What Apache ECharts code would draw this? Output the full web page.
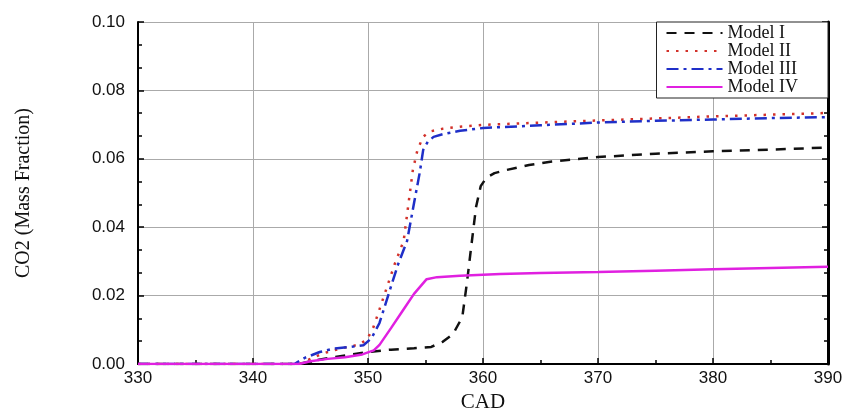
<!DOCTYPE html>
<html>
<head>
<meta charset="utf-8">
<script src="https://cdn.jsdelivr.net/npm/echarts@6/dist/echarts.min.js"></script>
<style>
  html, body { margin: 0; padding: 0; background: #fff; }
  #chart { width: 850px; height: 408px; }
</style>
</head>
<body>
<div id="chart"></div>
<script>
// CAD values (deg) and CO2 mass fraction
var cadI = [330, 344, 345, 347, 349, 350, 352, 354, 355.5, 356.5, 357.4, 358.2, 358.6, 359, 359.4, 359.8, 360.3, 361, 362, 364, 366, 370, 375, 380, 385, 390];
var co2I = [0, 0, 0.0008, 0.002, 0.003, 0.0035, 0.0042, 0.0046, 0.005, 0.0065, 0.0088, 0.0137, 0.0237, 0.035, 0.046, 0.052, 0.0545, 0.0558, 0.0567, 0.0582, 0.0592, 0.0605, 0.0615, 0.0622, 0.0627, 0.0633];

var cadII = [330, 344, 345, 346, 347, 348, 349, 349.9, 350.5, 351, 351.6, 352.3, 353.1, 353.9, 354.3, 354.8, 355.4, 356.5, 358, 360, 365, 370, 375, 380, 385, 390];
var co2II = [0, 0, 0.0015, 0.003, 0.004, 0.0048, 0.0055, 0.007, 0.011, 0.016, 0.022, 0.029, 0.036, 0.0567, 0.0626, 0.0665, 0.068, 0.0688, 0.0694, 0.0699, 0.0706, 0.0712, 0.0718, 0.0724, 0.0729, 0.0734];

var cadIII = [330, 343.6, 344.5, 345.8, 347, 348.5, 349.6, 350.3, 351, 351.9, 352.6, 353.4, 354, 354.5, 354.8, 355.2, 355.7, 356.5, 358, 360, 365, 370, 375, 380, 385, 390];
var co2III = [0, 0, 0.0018, 0.0035, 0.0045, 0.005, 0.0055, 0.0075, 0.012, 0.0216, 0.029, 0.036, 0.047, 0.056, 0.0626, 0.065, 0.0664, 0.0672, 0.0682, 0.069, 0.0698, 0.0706, 0.0711, 0.0715, 0.0719, 0.0722];

var cadIV = [330, 344, 345, 346.5, 348, 349.5, 350.5, 351, 352, 353, 354, 355.1, 356, 358, 361.5, 365, 370, 375, 380, 385, 390];
var co2IV = [0, 0, 0.0008, 0.0015, 0.002, 0.0028, 0.004, 0.0056, 0.0105, 0.0155, 0.0205, 0.0248, 0.0254, 0.0258, 0.0263, 0.0266, 0.0269, 0.0273, 0.0277, 0.0281, 0.0284];

var seriesNames = ['Model I', 'Model II', 'Model III', 'Model IV'];
var xTicks = [330, 340, 350, 360, 370, 380, 390];
var yTicks = [0.00, 0.02, 0.04, 0.06, 0.08, 0.10];

function pairs(xs, ys) {
  return xs.map(function (x, i) { return [x, ys[i]]; });
}

var chart = echarts.init(document.getElementById('chart'));

var tickFont = { fontFamily: 'Liberation Sans', fontSize: 17, color: '#111' };
var serif = 'Liberation Serif';

function lineSeries(name, data, color, type) {
  return {
    name: name,
    type: 'line',
    data: data,
    showSymbol: false,
    symbol: 'none',
    lineStyle: { color: color, width: 2.5, type: type },
    itemStyle: { color: color },
    z: 3
  };
}

chart.setOption({
  animation: false,
  backgroundColor: '#fff',
  grid: { left: 138, right: 22, top: 22, bottom: 44, containLabel: false, outerBoundsMode: 'none' },
  legend: {
    right: 22,
    top: 22,
    orient: 'vertical',
    backgroundColor: '#fff',
    borderColor: '#222',
    borderWidth: 1,
    padding: [2, 30, 2, 9],
    itemGap: 0,
    itemWidth: 56,
    itemHeight: 12,
    data: seriesNames,
    itemStyle: { opacity: 0 },
    textStyle: { fontFamily: serif, fontSize: 18, lineHeight: 16, height: 16, color: '#111' }
  },
  xAxis: [{
    type: 'value',
    min: xTicks[0],
    max: xTicks[xTicks.length - 1],
    interval: 10,
    name: 'CAD',
    nameLocation: 'middle',
    nameGap: 25,
    nameTextStyle: { fontFamily: serif, fontSize: 21, color: '#111' },
    axisLine: { show: true, lineStyle: { color: '#000', width: 2 } },
    axisTick: { show: true, inside: true, length: 6, lineStyle: { color: '#000', width: 1.5 } },
    minorTick: { show: true, splitNumber: 2, length: 4, lineStyle: { color: '#000', width: 1.5 } },
    axisLabel: Object.assign({ margin: 6 }, tickFont),
    splitLine: { show: true, lineStyle: { color: '#aaa', width: 1 } }
  }, {
    type: 'value',
    position: 'top',
    min: xTicks[0],
    max: xTicks[xTicks.length - 1],
    interval: 10,
    axisLine: { show: true, lineStyle: { color: '#000', width: 1.5 } },
    axisTick: { show: false },
    axisLabel: { show: false },
    splitLine: { show: false }
  }],
  yAxis: [{
    type: 'value',
    min: yTicks[0],
    max: yTicks[yTicks.length - 1],
    interval: 0.02,
    name: 'CO2 (Mass Fraction)',
    nameLocation: 'middle',
    nameGap: 104,
    nameTextStyle: { fontFamily: serif, fontSize: 20, color: '#111' },
    axisLine: { show: true, lineStyle: { color: '#000', width: 2 } },
    axisTick: { show: true, inside: true, length: 6, lineStyle: { color: '#000', width: 1.5 } },
    minorTick: { show: true, splitNumber: 3, length: 4, lineStyle: { color: '#000', width: 1.5 } },
    axisLabel: Object.assign({ margin: 13, formatter: function (v) { return v.toFixed(2); } }, tickFont),
    splitLine: { show: true, lineStyle: { color: '#aaa', width: 1 } }
  }, {
    type: 'value',
    position: 'right',
    min: yTicks[0],
    max: yTicks[yTicks.length - 1],
    interval: 0.02,
    axisLine: { show: true, lineStyle: { color: '#000', width: 3 } },
    axisTick: { show: true, inside: true, length: 6, lineStyle: { color: '#000', width: 1.5 } },
    minorTick: { show: true, splitNumber: 3, length: 4, lineStyle: { color: '#000', width: 1.5 } },
    axisLabel: { show: false },
    splitLine: { show: false }
  }],
  series: [
    lineSeries(seriesNames[0], pairs(cadI, co2I), '#111', [10, 8]),
    lineSeries(seriesNames[1], pairs(cadII, co2II), '#d2312a', [2.5, 7]),
    lineSeries(seriesNames[2], pairs(cadIII, co2III), '#1f2fc8', [12, 5, 3, 5]),
    lineSeries(seriesNames[3], pairs(cadIV, co2IV), '#e020e0', 'solid')
  ]
});
</script>
</body>
</html>
